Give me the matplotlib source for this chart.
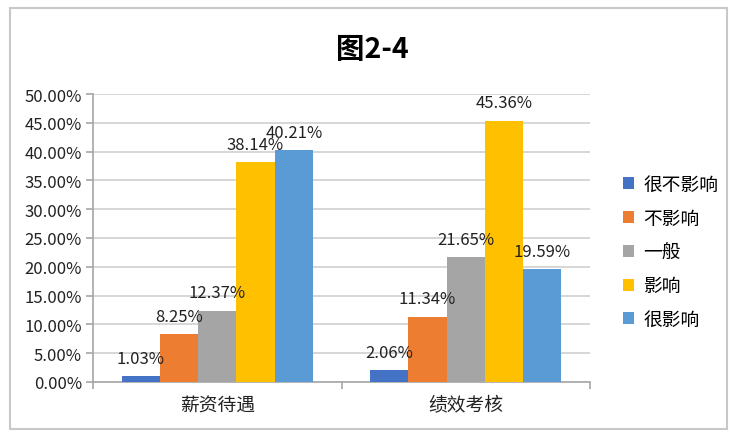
import matplotlib
matplotlib.use("Agg")
import matplotlib.pyplot as plt
from matplotlib.patches import Rectangle, Patch
from matplotlib.ticker import PercentFormatter, FixedLocator
import numpy as np

plt.rcParams['font.family'] = ['Noto Sans CJK SC', 'DejaVu Sans']

categories = ['薪资待遇', '绩效考核']
series_names = ['很不影响', '不影响', '一般', '影响', '很影响']
values = {
    '很不影响': [1.03, 2.06],
    '不影响': [8.25, 11.34],
    '一般': [12.37, 21.65],
    '影响': [38.14, 45.36],
    '很影响': [40.21, 19.59],
}
colors = ['#4472C4', '#ED7D31', '#A5A5A5', '#FFC000', '#5B9BD5']
title = '图2-4'

W, H = 739, 439
fig = plt.figure(figsize=(W / 100, H / 100), dpi=100)
fig.patches.append(Rectangle((10 / W, 9 / H), 717 / W, 421 / H, transform=fig.transFigure,
                             fill=False, edgecolor='#C8C8C8', linewidth=1.5))

ax = fig.add_axes([93 / W, (H - 383) / H, (590 - 93) / W, (383 - 95) / H])
x = np.arange(len(categories))
bw = 0.154
handles = []
for i, name in enumerate(series_names):
    pos = x + (i - 2) * bw
    ax.bar(pos, values[name], width=bw, color=colors[i], zorder=3)
    for px, v in zip(pos, values[name]):
        ax.annotate(f'{v:.2f}%', (px, v), xytext=(0, 13), textcoords='offset points',
                    ha='center', va='center', fontsize=12, color='#222222', zorder=4)
    handles.append(Patch(facecolor=colors[i], label=name))

ax.set_xlim(-0.5, 1.5)
ax.set_ylim(0, 50)
ax.yaxis.set_major_locator(FixedLocator(np.arange(0, 50.1, 5)))
ax.yaxis.set_major_formatter(PercentFormatter(decimals=2))
ax.yaxis.grid(True, color='#D0D0D0', linewidth=1.2, zorder=0)
ax.set_xticks(x)
ax.set_xticklabels(categories)
ax.set_xticks([-0.5, 0.5, 1.5], minor=True)
ax.tick_params(axis='x', which='major', length=0, pad=9, labelsize=13.5, labelcolor='#222222')
ax.tick_params(axis='x', which='minor', length=5, color='#A6A6A6', width=1.2)
ax.tick_params(axis='y', length=5, color='#A6A6A6', width=1.2, labelsize=12, labelcolor='#222222', pad=3)
for s in ['top', 'right']:
    ax.spines[s].set_visible(False)
for s in ['left', 'bottom']:
    ax.spines[s].set_color('#A6A6A6')
    ax.spines[s].set_linewidth(1.2)

fig.text(372 / W, (H - 50) / H, title, ha='center', va='center', fontsize=20.5, fontweight='bold')

fig.legend(handles=handles, loc='center left', bbox_to_anchor=(606 / W, (H - 253) / H),
           frameon=False, fontsize=13.5, handlelength=0.6, handleheight=0.6,
           handletextpad=0.5, labelspacing=0.68)

fig.savefig('out.png', dpi=100)
